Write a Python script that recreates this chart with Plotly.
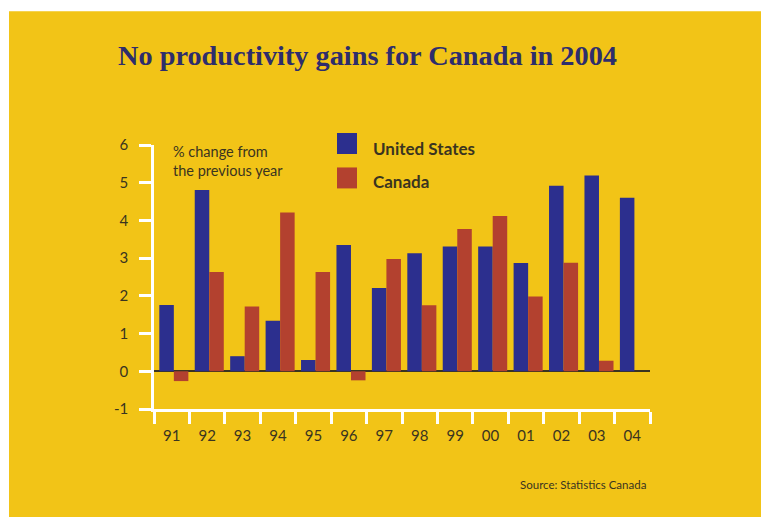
import plotly.graph_objects as go

years = ["91", "92", "93", "94", "95", "96", "97", "98", "99", "00", "01", "02", "03", "04"]
us_values = [1.76, 4.81, 0.40, 1.34, 0.30, 3.35, 2.21, 3.13, 3.31, 3.31, 2.87, 4.92, 5.19, 4.60]
canada_values = [-0.26, 2.63, 1.72, 4.21, 2.63, -0.24, 2.98, 1.75, 3.77, 4.12, 1.98, 2.88, 0.28, None]
y_tick_vals = [-1, 0, 1, 2, 3, 4, 5, 6]
y_tick_text = ["-1", "0", "1", "2", "3", "4", "5", "6"]

W, H = 761, 517
L, R, T, B = 154, 650, 145, 409.5
YELLOW = "#F2C417"
BLUE = "#2C2F8E"
RED = "#B3412F"
DARK = "#3A3420"
FONT = "Lato"


def px(x):
    return (x - L) / (R - L)


def py(y):
    return (B - y) / (B - T)


fig = go.Figure()
fig.add_trace(go.Bar(x=years, y=us_values, name="United States", marker=dict(color=BLUE, line=dict(width=0)),
                     offset=-0.35, width=0.41, showlegend=False))
fig.add_trace(go.Bar(x=years, y=canada_values, name="Canada", marker=dict(color=RED, line=dict(width=0)),
                     offset=0.06, width=0.41, showlegend=False))

shapes = [
    dict(type="rect", xref="paper", yref="paper", x0=px(-5), x1=px(9), y0=py(-5), y1=py(525),
         fillcolor="white", line=dict(width=0), layer="above"),
    dict(type="rect", xref="paper", yref="paper", x0=px(-5), x1=px(770), y0=py(-5), y1=py(11),
         fillcolor="white", line=dict(width=0), layer="above"),
    dict(type="rect", xref="paper", yref="paper", x0=px(337), x1=px(357), y0=py(154), y1=py(133),
         fillcolor=BLUE, line=dict(width=0)),
    dict(type="rect", xref="paper", yref="paper", x0=px(337), x1=px(357), y0=py(188.5), y1=py(167.5),
         fillcolor=RED, line=dict(width=0)),
]

annotations = [
    dict(text="<b>No productivity gains for Canada in 2004</b>", xref="paper", yref="paper",
         x=px(367), y=py(55), xanchor="center", yanchor="middle", showarrow=False,
         font=dict(family="Liberation Serif", size=28.3, color="#2E2D6C")),
    dict(text="% change from<br>the previous year", xref="paper", yref="paper",
         x=px(171), y=py(141), xanchor="left", yanchor="top", showarrow=False, align="left",
         font=dict(family=FONT, size=14.5, color=DARK)),
    dict(text="<b>United States</b>", xref="paper", yref="paper",
         x=px(371), y=py(149), xanchor="left", yanchor="middle", showarrow=False,
         font=dict(family=FONT, size=17, color=DARK)),
    dict(text="<b>Canada</b>", xref="paper", yref="paper",
         x=px(371), y=py(182), xanchor="left", yanchor="middle", showarrow=False,
         font=dict(family=FONT, size=17, color=DARK)),
    dict(text="Source: Statistics Canada", xref="paper", yref="paper",
         x=px(648), y=py(485), xanchor="right", yanchor="middle", showarrow=False,
         font=dict(family=FONT, size=11.5, color=DARK)),
]

fig.update_layout(
    width=W, height=H,
    margin=dict(l=L, r=W - R, t=T, b=H - B, pad=0),
    paper_bgcolor=YELLOW, plot_bgcolor=YELLOW,
    barmode="overlay",
    shapes=shapes, annotations=annotations,
    showlegend=False,
    font=dict(family=FONT, color=DARK),
)
fig.update_xaxes(
    type="category", categoryorder="array", categoryarray=years,
    showline=True, linecolor="white", linewidth=2.5,
    ticks="outside", tickson="boundaries", ticklen=12, tickwidth=2.5, tickcolor="white",
    showgrid=False, zeroline=False,
    tickfont=dict(family=FONT, size=15, color=DARK),
    ticklabelstandoff=11,
)
fig.update_yaxes(
    range=[-1, 6], tickvals=y_tick_vals, ticktext=y_tick_text,
    showline=True, linecolor="white", linewidth=2.5,
    ticks="outside", ticklen=12, tickwidth=2.5, tickcolor="white",
    showgrid=False, zeroline=True, zerolinecolor="#3A3420", zerolinewidth=2,
    tickfont=dict(family=FONT, size=15, color=DARK),
    ticklabelstandoff=8,
)

fig.write_html(
    "out.html",
    config={"displayModeBar": False},
    post_script="document.body.style.margin='0';document.body.style.overflow='hidden';",
)
